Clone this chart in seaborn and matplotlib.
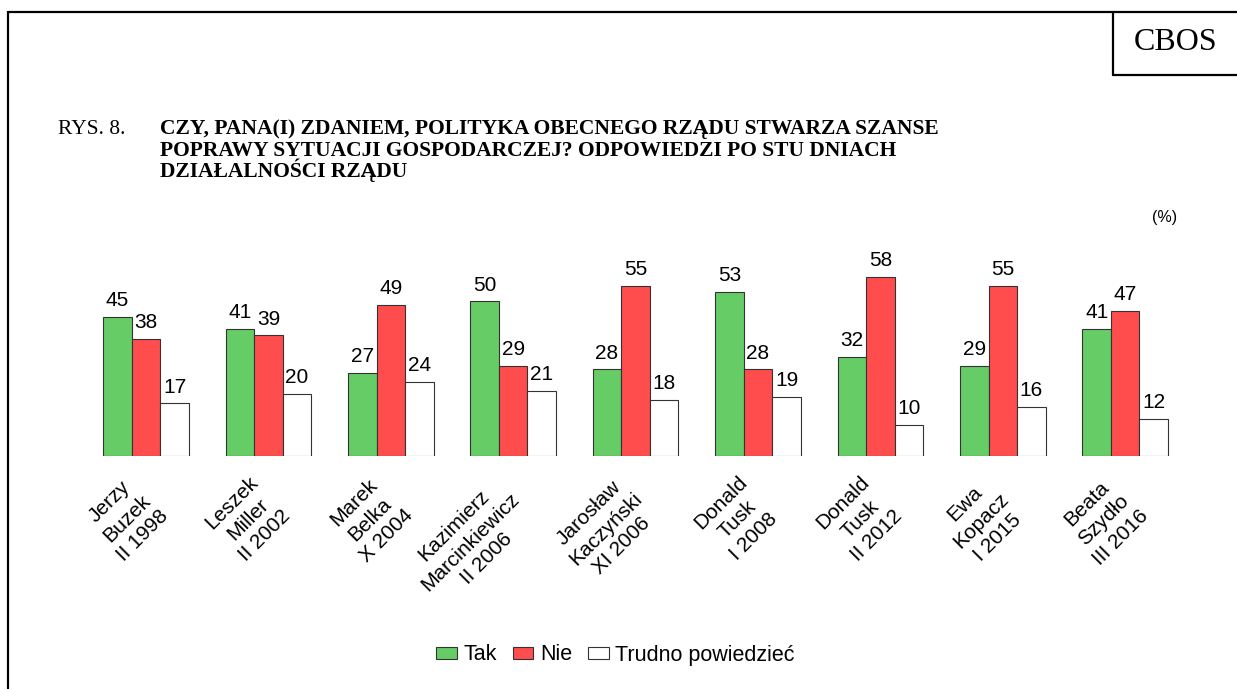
import pandas as pd
import numpy as np
import matplotlib.pyplot as plt
import matplotlib.transforms as mtrans
from matplotlib.lines import Line2D
from matplotlib.patches import Patch
import seaborn as sns

# data
rzady = ['Jerzy\nBuzek\nII 1998', 'Leszek\nMiller\nII 2002', 'Marek\nBelka\nX 2004',
         'Kazimierz\nMarcinkiewicz\nII 2006', 'Jarosław\nKaczyński\nXI 2006',
         'Donald\nTusk\nI 2008', 'Donald\nTusk\nII 2012', 'Ewa\nKopacz\nI 2015',
         'Beata\nSzydło\nIII 2016']
odpowiedzi = ['Tak', 'Nie', 'Trudno powiedzieć']
tak = [45, 41, 27, 50, 28, 53, 32, 29, 41]
nie = [38, 39, 49, 29, 55, 28, 58, 55, 47]
trudno = [17, 20, 24, 21, 18, 19, 10, 16, 12]
kolory = ['#66CC66', '#FF4D4D', '#FFFFFF']
tytul = ['CZY, PANA(I) ZDANIEM, POLITYKA OBECNEGO RZĄDU STWARZA SZANSE',
         'POPRAWY SYTUACJI GOSPODARCZEJ? ODPOWIEDZI PO STU DNIACH',
         'DZIAŁALNOŚCI RZĄDU']

df = pd.DataFrame({'rzad': rzady, 'Tak': tak, 'Nie': nie, 'Trudno powiedzieć': trudno})
df = df.melt(id_vars='rzad', var_name='odp', value_name='proc')

sns.set_style('white')
plt.rcParams['font.family'] = ['Liberation Sans', 'DejaVu Sans']
plt.rcParams['text.color'] = 'black'
plt.rcParams['xtick.color'] = 'black'

W, H = 1237, 689
fig = plt.figure(figsize=(W / 100, H / 100), dpi=100)
ax = fig.add_axes([84.8 / W, (H - 456) / H, 1101.6 / W, 200.9 / H])

sns.barplot(data=df, x='rzad', y='proc', hue='odp', hue_order=odpowiedzi,
            palette=kolory, saturation=1, width=0.7, edgecolor='#333333',
            linewidth=0.8, legend=False, ax=ax)
for cont in ax.containers:
    ax.bar_label(cont, fontsize=15, padding=5, color='black')

ax.set_xlim(-0.5, 8.5)
ax.set_ylim(0, 65)
ax.set_xlabel('')
ax.set_ylabel('')
ax.set_yticks([])
sns.despine(ax=ax, left=True, bottom=True)
ax.tick_params(axis='x', length=0, pad=0)
ax.set_xticks(range(len(rzady)))
ax.set_xticklabels(rzady, rotation=45, rotation_mode='anchor', ha='right',
                   va='center', multialignment='center', fontsize=15,
                   linespacing=1.3)
przes = mtrans.ScaledTranslation(3 / 100, -40 / 100, fig.dpi_scale_trans)
for lab in ax.get_xticklabels():
    lab.set_transform(lab.get_transform() + przes)

# title, one line at a time so the baselines are even
fig.text(58 / W, 1 - 134 / H, 'RYS. 8.', family='Liberation Serif', fontsize=15.5,
         va='baseline')
for i, linia in enumerate(tytul):
    fig.text(160 / W, 1 - (134 + 21.7 * i) / H, linia, family='Liberation Serif',
             fontsize=15.5, fontweight='bold', va='baseline')
fig.text(1165 / W, 1 - 217 / H, '(%)', fontsize=11.5, ha='center', va='center')

# frame + CBOS box
ramka = dict(color='black', linewidth=1.6, transform=fig.transFigure)
fig.add_artist(Line2D([8 / W, 8 / W], [0, 1 - 12 / H], **ramka))
fig.add_artist(Line2D([8 / W, 1], [1 - 12 / H, 1 - 12 / H], **ramka))
fig.add_artist(Line2D([1113 / W, 1113 / W], [1 - 12 / H, 1 - 75 / H], **ramka))
fig.add_artist(Line2D([1113 / W, 1], [1 - 75 / H, 1 - 75 / H], **ramka))
fig.text(1176 / W, 1 - 43 / H, 'CBOS', family='Liberation Serif', fontsize=23,
         ha='center', va='center')

# legend
uchwyty = [Patch(facecolor=c, edgecolor='#333333', linewidth=0.8) for c in kolory]
fig.legend(uchwyty, odpowiedzi, loc='center', bbox_to_anchor=(615.5 / W, 1 - 655 / H),
           ncol=3, frameon=False, fontsize=15.5, handlelength=0.95, handleheight=0.47,
           handletextpad=0.3, columnspacing=0.75, borderpad=0, borderaxespad=0)

fig.savefig('out.png', dpi=100)
